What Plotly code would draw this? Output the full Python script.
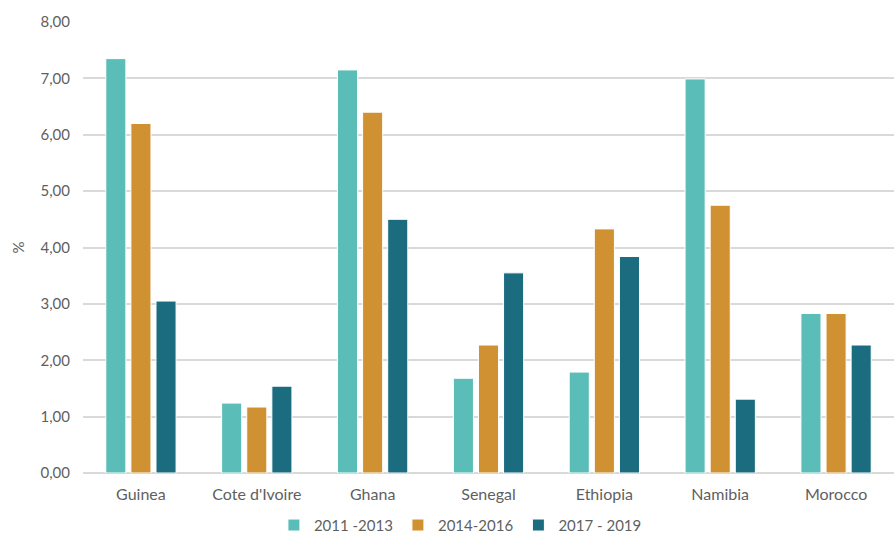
import plotly.graph_objects as go

countries = ["Guinea", "Cote d'Ivoire", "Ghana", "Senegal", "Ethiopia", "Namibia", "Morocco"]
period_labels = ["2011 -2013", "2014-2016", "2017 - 2019"]
values_2011_2013 = [7.35, 1.24, 7.15, 1.68, 1.79, 6.99, 2.83]
values_2014_2016 = [6.20, 1.17, 6.40, 2.27, 4.33, 4.75, 2.83]
values_2017_2019 = [3.05, 1.54, 4.50, 3.55, 3.84, 1.31, 2.27]
colors = ["#5BBDB7", "#D09132", "#1C6C80"]

font_family = "Lato, 'Open Sans', sans-serif"
text_color = "#5f5f5f"

fig = go.Figure()
for label, vals, col in zip(period_labels,
                            [values_2011_2013, values_2014_2016, values_2017_2019],
                            colors):
    fig.add_trace(go.Bar(
        x=countries, y=vals, name=label,
        marker=dict(color=col, line=dict(color="white", width=1)),
    ))

fig.update_layout(
    width=894, height=536,
    margin=dict(l=83, r=0, t=22, b=63, autoexpand=False),
    plot_bgcolor="white", paper_bgcolor="white",
    barmode="group", bargap=0.35, bargroupgap=0.2,
    separators=",.",
    font=dict(family=font_family, size=15, color=text_color),
    legend=dict(
        orientation="h", x=0.515, xanchor="center", xref="container",
        y=0.02, yanchor="middle", yref="container",
        font=dict(size=15, color=text_color), itemwidth=30,
        traceorder="normal",
    ),
    xaxis=dict(
        showgrid=False, showline=False, ticks="",
        ticklabelstandoff=10,
        tickfont=dict(size=16, color=text_color),
    ),
    yaxis=dict(
        range=[0, 8], dtick=1, tickformat=".2f",
        showgrid=True, gridcolor="#D9D9D9", gridwidth=1.5,
        zeroline=True, zerolinecolor="#D9D9D9", zerolinewidth=1.5,
        showline=False, ticks="", ticklen=0,
        ticklabelstandoff=12,
        tickfont=dict(size=15, color=text_color),
        title=dict(text="%", font=dict(size=15, color=text_color), standoff=12),
    ),
)

fig.write_html("out.html")
